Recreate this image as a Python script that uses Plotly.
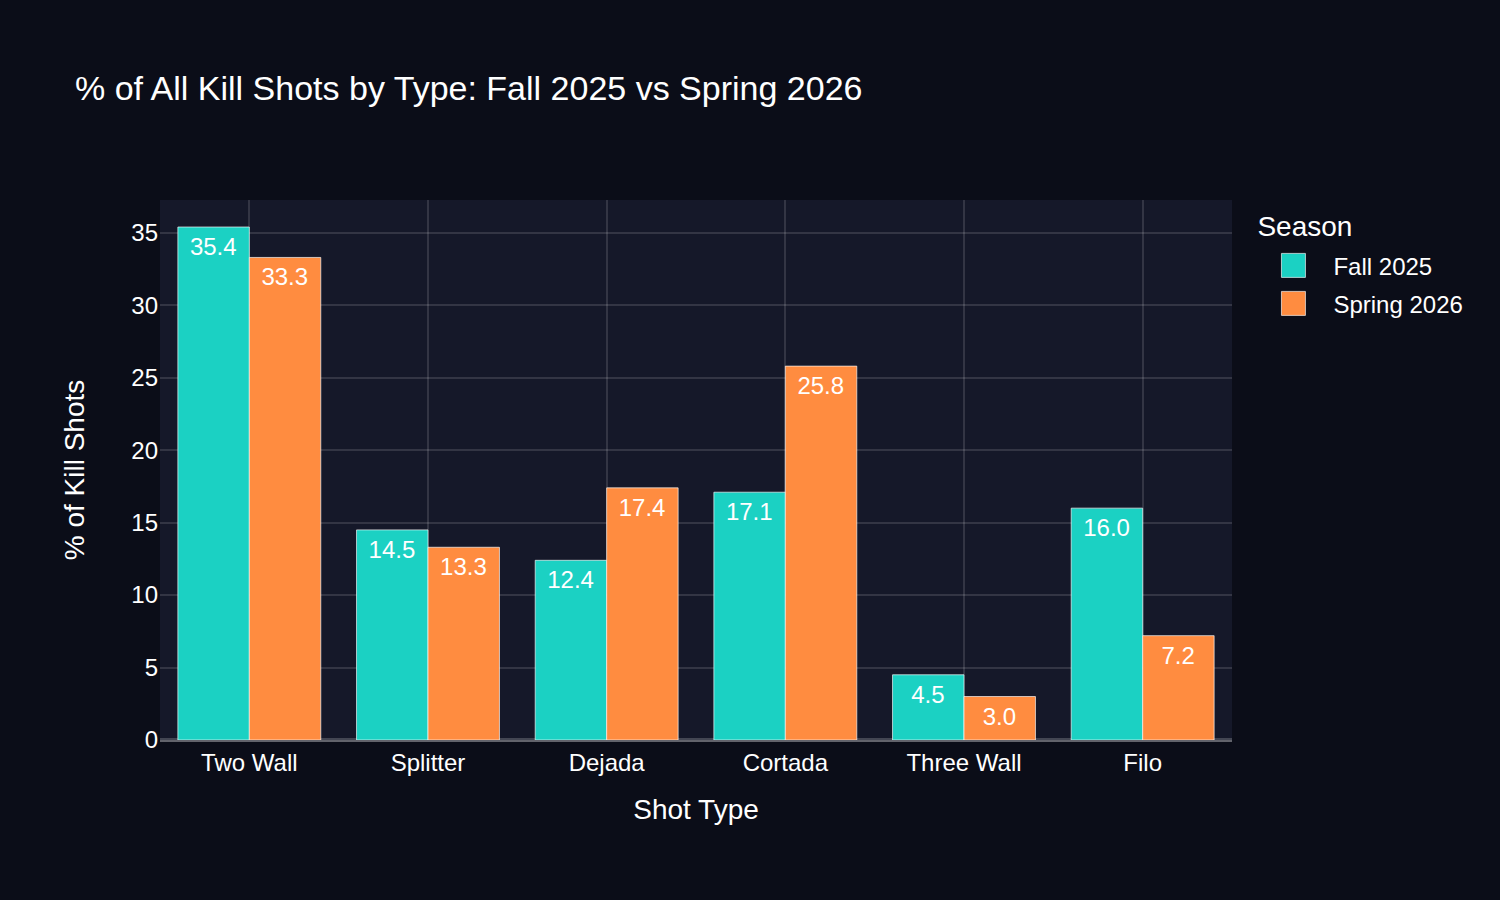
import plotly.graph_objects as go

shot_types = ["Two Wall", "Splitter", "Dejada", "Cortada", "Three Wall", "Filo"]
fall_2025 = [35.4, 14.5, 12.4, 17.1, 4.5, 16.0]
spring_2026 = [33.3, 13.3, 17.4, 25.8, 3.0, 7.2]

FONT = "Liberation Sans, Arial, Helvetica, sans-serif"

fig = go.Figure()
fig.add_trace(go.Bar(
    name="Fall 2025", x=shot_types, y=fall_2025,
    marker=dict(color="#1BD1C3", line=dict(color="rgba(255,255,255,0.65)", width=0.5)),
    text=[f"{v:.1f}" for v in fall_2025], textposition="inside",
    insidetextanchor="end", textfont=dict(color="white", size=12),
))
fig.add_trace(go.Bar(
    name="Spring 2026", x=shot_types, y=spring_2026,
    marker=dict(color="#FF8C40", line=dict(color="rgba(255,255,255,0.65)", width=0.5)),
    text=[f"{v:.1f}" for v in spring_2026], textposition="inside",
    insidetextanchor="end", textfont=dict(color="white", size=12),
))

# Figure is laid out at 750x450 and displayed at 2x (like a scale-2 export)
fig.update_layout(
    width=750, height=450,
    barmode="group", bargap=0.2,
    paper_bgcolor="#0B0D18",
    plot_bgcolor="#151829",
    font=dict(family=FONT, color="white", size=12),
    title=dict(text="% of All Kill Shots by Type: Fall 2025 vs Spring 2026",
               font=dict(size=17, color="white")),
    margin=dict(l=80, r=80, t=100, b=80),
    legend=dict(title=dict(text="Season", font=dict(size=14))),
)
fig.update_xaxes(
    title=dict(text="Shot Type", font=dict(size=14), standoff=12),
    showgrid=True, gridcolor="rgba(255,255,255,0.13)",
    showline=True, linecolor="rgba(255,255,255,0.2)",
)
fig.update_yaxes(
    title=dict(text="% of Kill Shots", font=dict(size=14), standoff=19),
    showgrid=True, gridcolor="rgba(255,255,255,0.13)",
    zeroline=True, zerolinecolor="rgba(255,255,255,0.2)",
)

post = """
document.body.style.margin='0';
document.body.style.background='#0B0D18';
var gd=document.getElementById('{plot_id}');
gd.style.transformOrigin='0 0';
gd.style.transform='scale(2)';
"""

fig.write_html("out.html", post_script=post, config={"displayModeBar": False})
